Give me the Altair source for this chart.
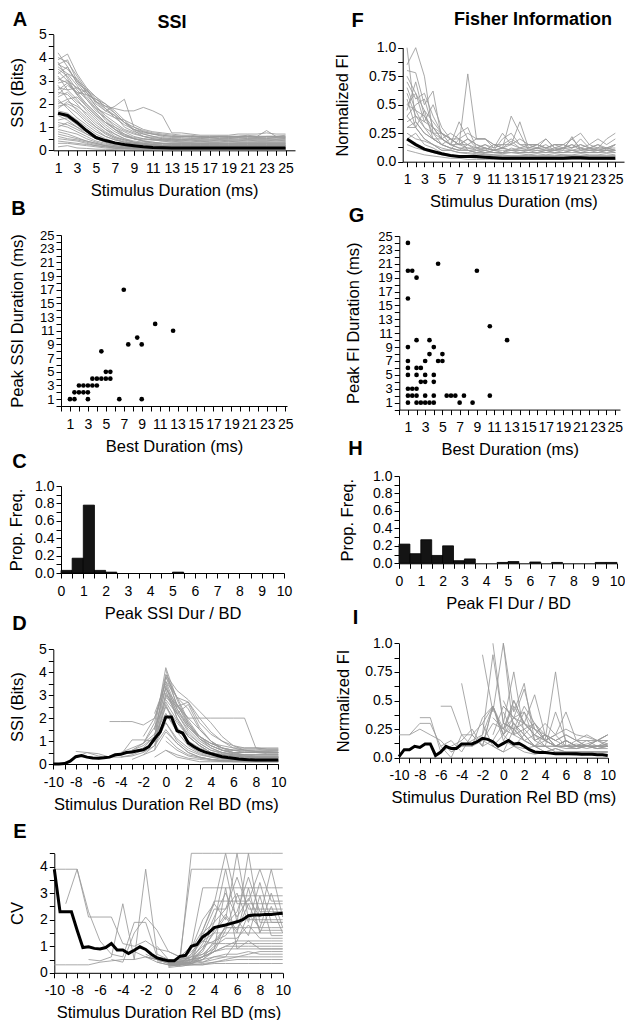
import altair as alt
import pandas as pd

FONT = "Liberation Sans"
GRAY = "#999999"
W, H = 617, 1012      # whole drawing area (page minus its 8px margin)

# ---------------- data ----------------
DUR = list(range(1, 26))
REL = [-10 + 0.5 * k for k in range(41)]

A_MEAN = [1.6, 1.5, 1.2, 0.85, 0.55, 0.42, 0.32, 0.25, 0.2, 0.15, 0.12, 0.11, 0.1, 0.1, 0.1, 0.1, 0.1, 0.1, 0.1, 0.1, 0.1, 0.1, 0.1, 0.1, 0.1]
A_GRAY = [
    [4.2, 3.6, 2.9, 2.6, 2.2, 1.9, 1.8, 1.7, 1.7, 1.85, 1.7, 1.5, 0.75, 0.75, 0.7, 0.65, 0.65, 0.65, 0.65, 0.7, 0.7, 0.7, 0.75, 0.7, 0.7],
    [3.9, 4.15, 3.3, 2.7, 2.0, 1.7, 1.9, 2.2, 1.0, 0.8, 0.7, 0.6, 0.55, 0.55, 0.6, 0.55, 0.6, 0.6, 0.6, 0.6, 0.65, 0.6, 0.85, 0.6, 0.65],
    [3.7, 3.5, 3.0, 2.7, 2.3, 1.8, 1.4, 1.1, 0.9, 0.8, 0.7, 0.65, 0.6, 0.6, 0.55, 0.6, 0.55, 0.6, 0.55, 0.6, 0.6, 0.55, 0.6, 0.6, 0.55],
    [3.5, 3.2, 2.6, 2.2, 1.7, 1.4, 1.1, 0.85, 0.7, 0.6, 0.55, 0.5, 0.5, 0.5, 0.5, 0.5, 0.5, 0.5, 0.5, 0.5, 0.5, 0.5, 0.5, 0.5, 0.5],
    [3.3, 3.6, 2.9, 2.4, 1.9, 1.5, 1.2, 0.9, 0.75, 0.6, 0.5, 0.45, 0.45, 0.4, 0.45, 0.4, 0.4, 0.45, 0.4, 0.4, 0.45, 0.4, 0.4, 0.45, 0.4],
    [3.1, 2.9, 2.5, 2.0, 1.6, 1.2, 0.9, 0.7, 0.55, 0.5, 0.45, 0.4, 0.4, 0.4, 0.4, 0.4, 0.4, 0.4, 0.4, 0.4, 0.4, 0.4, 0.4, 0.4, 0.4],
    [2.9, 3.0, 2.7, 2.3, 1.8, 1.3, 0.9, 0.6, 0.5, 0.4, 0.35, 0.3, 0.3, 0.3, 0.3, 0.3, 0.3, 0.3, 0.3, 0.3, 0.3, 0.3, 0.3, 0.3, 0.3],
    [2.7, 2.6, 2.2, 1.7, 1.3, 0.9, 0.7, 0.5, 0.4, 0.35, 0.3, 0.3, 0.25, 0.25, 0.25, 0.25, 0.25, 0.25, 0.25, 0.25, 0.25, 0.25, 0.25, 0.25, 0.25],
    [2.5, 2.4, 2.0, 1.5, 1.1, 0.8, 0.55, 0.4, 0.3, 0.25, 0.2, 0.2, 0.2, 0.2, 0.2, 0.2, 0.2, 0.2, 0.2, 0.2, 0.2, 0.2, 0.2, 0.2, 0.2],
    [2.3, 2.5, 2.1, 1.8, 1.4, 1.0, 0.7, 0.5, 0.35, 0.3, 0.25, 0.2, 0.2, 0.2, 0.2, 0.2, 0.2, 0.2, 0.2, 0.2, 0.2, 0.2, 0.2, 0.2, 0.2],
    [2.1, 1.9, 1.6, 1.2, 0.9, 0.6, 0.45, 0.35, 0.3, 0.25, 0.2, 0.15, 0.15, 0.15, 0.15, 0.15, 0.15, 0.15, 0.15, 0.15, 0.15, 0.15, 0.15, 0.15, 0.15],
    [1.9, 2.0, 1.8, 1.4, 1.0, 0.7, 0.5, 0.35, 0.25, 0.2, 0.2, 0.15, 0.15, 0.15, 0.15, 0.15, 0.15, 0.15, 0.15, 0.15, 0.15, 0.15, 0.15, 0.15, 0.15],
    [1.7, 1.6, 1.3, 1.0, 0.7, 0.5, 0.35, 0.25, 0.2, 0.15, 0.12, 0.1, 0.1, 0.1, 0.1, 0.1, 0.1, 0.1, 0.1, 0.1, 0.1, 0.1, 0.1, 0.1, 0.1],
    [1.5, 1.3, 1.0, 0.7, 0.5, 0.35, 0.25, 0.2, 0.15, 0.1, 0.1, 0.1, 0.1, 0.1, 0.1, 0.1, 0.1, 0.1, 0.1, 0.1, 0.1, 0.1, 0.1, 0.1, 0.1],
    [1.3, 1.4, 1.2, 0.9, 0.6, 0.4, 0.3, 0.2, 0.15, 0.12, 0.1, 0.08, 0.08, 0.08, 0.08, 0.08, 0.08, 0.08, 0.08, 0.08, 0.08, 0.08, 0.08, 0.08, 0.08],
    [1.1, 1.0, 0.8, 0.6, 0.4, 0.3, 0.2, 0.15, 0.1, 0.08, 0.07, 0.06, 0.06, 0.06, 0.06, 0.06, 0.06, 0.06, 0.06, 0.06, 0.06, 0.06, 0.06, 0.06, 0.06],
    [0.9, 0.8, 0.7, 0.5, 0.35, 0.25, 0.2, 0.15, 0.1, 0.08, 0.06, 0.05, 0.05, 0.05, 0.05, 0.05, 0.05, 0.05, 0.05, 0.05, 0.05, 0.05, 0.05, 0.05, 0.05],
    [0.7, 0.6, 0.5, 0.4, 0.3, 0.2, 0.15, 0.1, 0.08, 0.06, 0.05, 0.04, 0.04, 0.04, 0.04, 0.04, 0.04, 0.04, 0.04, 0.04, 0.04, 0.04, 0.04, 0.04, 0.04],
    [0.5, 0.45, 0.4, 0.3, 0.2, 0.15, 0.1, 0.08, 0.06, 0.05, 0.04, 0.03, 0.03, 0.03, 0.03, 0.03, 0.03, 0.03, 0.03, 0.03, 0.03, 0.03, 0.03, 0.03, 0.03],
    [0.3, 0.3, 0.25, 0.2, 0.15, 0.1, 0.08, 0.06, 0.05, 0.04, 0.03, 0.02, 0.02, 0.02, 0.02, 0.02, 0.02, 0.02, 0.02, 0.02, 0.02, 0.02, 0.02, 0.02, 0.02],
    [0.15, 0.2, 0.1, 0.08, 0.05, 0.04, 0.03, 0.02, 0.02, 0.02, 0.02, 0.02, 0.02, 0.02, 0.02, 0.02, 0.02, 0.02, 0.02, 0.02, 0.02, 0.02, 0.02, 0.02, 0.02],
    [3.8, 3.1, 2.4, 2.6, 2.1, 1.7, 1.5, 1.0, 0.8, 0.7, 0.6, 0.55, 0.5, 0.45, 0.5, 0.5, 0.55, 0.5, 0.5, 0.55, 0.5, 0.5, 0.5, 0.55, 0.5],
    [3.2, 2.6, 2.7, 2.5, 2.1, 1.9, 1.6, 1.2, 0.85, 0.6, 0.5, 0.45, 0.4, 0.35, 0.35, 0.4, 0.35, 0.35, 0.4, 0.35, 0.35, 0.35, 0.35, 0.35, 0.35],
    [2.4, 2.8, 2.5, 2.4, 2.2, 2.0, 1.7, 1.3, 0.9, 0.7, 0.6, 0.5, 0.45, 0.45, 0.45, 0.45, 0.45, 0.45, 0.45, 0.45, 0.45, 0.45, 0.45, 0.45, 0.45],
    [3.6, 3.3, 2.8, 2.2, 1.8, 1.6, 1.4, 1.3, 1.1, 0.9, 0.8, 0.75, 0.7, 0.65, 0.65, 0.6, 0.6, 0.6, 0.6, 0.6, 0.6, 0.6, 0.6, 0.6, 0.6],
    [2.0, 2.2, 2.3, 1.9, 1.5, 1.1, 0.8, 0.6, 0.5, 0.45, 0.45, 0.45, 0.45, 0.45, 0.45, 0.45, 0.45, 0.45, 0.45, 0.45, 0.45, 0.45, 0.45, 0.45, 0.45],
    [4.0, 3.8, 3.2, 2.6, 2.3, 2.0, 1.6, 1.2, 1.0, 0.85, 0.75, 0.7, 0.65, 0.6, 0.6, 0.6, 0.55, 0.6, 0.6, 0.6, 0.6, 0.6, 0.6, 0.6, 0.6],
    [3.4, 3.0, 2.4, 1.9, 1.5, 1.2, 1.0, 0.8, 0.6, 0.5, 0.45, 0.4, 0.35, 0.35, 0.35, 0.35, 0.35, 0.35, 0.35, 0.35, 0.35, 0.35, 0.35, 0.35, 0.35],
    [3.0, 3.3, 3.1, 2.5, 1.9, 1.4, 1.0, 0.7, 0.5, 0.4, 0.3, 0.3, 0.3, 0.3, 0.3, 0.3, 0.3, 0.3, 0.3, 0.3, 0.3, 0.3, 0.3, 0.3, 0.3],
    [2.8, 2.2, 1.7, 1.3, 1.0, 0.75, 0.55, 0.45, 0.35, 0.3, 0.25, 0.25, 0.25, 0.25, 0.25, 0.25, 0.25, 0.25, 0.25, 0.25, 0.25, 0.25, 0.25, 0.25, 0.25],
    [2.6, 2.9, 2.4, 2.0, 1.6, 1.2, 0.9, 0.65, 0.5, 0.4, 0.35, 0.3, 0.3, 0.3, 0.3, 0.3, 0.3, 0.3, 0.3, 0.3, 0.3, 0.3, 0.3, 0.3, 0.3],
    [2.2, 1.8, 1.4, 1.1, 0.8, 0.6, 0.45, 0.35, 0.3, 0.25, 0.2, 0.2, 0.2, 0.2, 0.2, 0.2, 0.2, 0.2, 0.2, 0.2, 0.2, 0.2, 0.2, 0.2, 0.2],
    [1.8, 2.1, 1.9, 1.6, 1.2, 0.9, 0.6, 0.45, 0.35, 0.3, 0.25, 0.2, 0.2, 0.2, 0.2, 0.2, 0.2, 0.2, 0.2, 0.2, 0.2, 0.2, 0.2, 0.2, 0.2],
    [1.6, 1.4, 1.1, 0.8, 0.55, 0.4, 0.3, 0.2, 0.15, 0.12, 0.1, 0.1, 0.1, 0.1, 0.1, 0.1, 0.1, 0.1, 0.1, 0.1, 0.1, 0.1, 0.1, 0.1, 0.1],
    [1.2, 1.1, 0.9, 0.7, 0.5, 0.35, 0.25, 0.2, 0.15, 0.1, 0.1, 0.1, 0.1, 0.1, 0.1, 0.1, 0.1, 0.1, 0.1, 0.1, 0.1, 0.1, 0.1, 0.1, 0.1],
    [1.0, 1.2, 1.0, 0.8, 0.6, 0.4, 0.3, 0.2, 0.15, 0.1, 0.1, 0.1, 0.1, 0.1, 0.1, 0.1, 0.1, 0.1, 0.1, 0.1, 0.1, 0.1, 0.1, 0.1, 0.1],
    [0.8, 0.7, 0.55, 0.4, 0.3, 0.2, 0.15, 0.1, 0.1, 0.1, 0.1, 0.1, 0.1, 0.1, 0.1, 0.1, 0.1, 0.1, 0.1, 0.1, 0.1, 0.1, 0.1, 0.1, 0.1],
    [0.6, 0.5, 0.45, 0.35, 0.25, 0.2, 0.15, 0.1, 0.1, 0.1, 0.1, 0.1, 0.1, 0.1, 0.1, 0.1, 0.1, 0.1, 0.1, 0.1, 0.1, 0.1, 0.1, 0.1, 0.1],
    [0.4, 0.35, 0.3, 0.25, 0.2, 0.15, 0.1, 0.1, 0.1, 0.1, 0.1, 0.1, 0.1, 0.1, 0.1, 0.1, 0.1, 0.1, 0.1, 0.1, 0.1, 0.1, 0.1, 0.1, 0.1],
    [3.7, 3.9, 3.0, 2.5, 2.1, 1.8, 1.5, 1.2, 0.9, 0.75, 0.7, 0.65, 0.6, 0.6, 0.6, 0.55, 0.55, 0.55, 0.55, 0.55, 0.55, 0.55, 0.55, 0.55, 0.55],
]

F_MEAN = [0.2, 0.15, 0.11, 0.09, 0.07, 0.055, 0.045, 0.045, 0.045, 0.04, 0.035, 0.03, 0.03, 0.03, 0.03, 0.03, 0.03, 0.03, 0.03, 0.035, 0.035, 0.03, 0.03, 0.03, 0.03]
F_GRAY = [
    [1.0, 0.35, 0.25, 0.2, 0.15, 0.12, 0.1, 0.1, 0.08, 0.1, 0.08, 0.07, 0.08, 0.07, 0.06, 0.07, 0.06, 0.07, 0.06, 0.06, 0.07, 0.06, 0.06, 0.07, 0.06],
    [0.85, 1.0, 0.75, 0.25, 0.2, 0.15, 0.12, 0.1, 0.1, 0.1, 0.08, 0.08, 0.1, 0.08, 0.08, 0.08, 0.1, 0.08, 0.08, 0.1, 0.08, 0.08, 0.08, 0.1, 0.08],
    [0.8, 0.78, 0.5, 0.62, 0.2, 0.15, 0.35, 0.2, 0.15, 0.12, 0.1, 0.12, 0.4, 0.25, 0.1, 0.12, 0.1, 0.12, 0.1, 0.1, 0.12, 0.1, 0.1, 0.12, 0.1],
    [0.5, 0.6, 0.45, 0.35, 0.25, 0.2, 0.15, 0.77, 0.2, 0.2, 0.15, 0.12, 0.15, 0.35, 0.12, 0.12, 0.2, 0.12, 0.12, 0.2, 0.12, 0.15, 0.12, 0.2, 0.25],
    [0.45, 0.7, 0.4, 0.3, 0.2, 0.25, 0.2, 0.15, 0.2, 0.2, 0.12, 0.25, 0.15, 0.2, 0.15, 0.15, 0.12, 0.15, 0.15, 0.2, 0.25, 0.15, 0.2, 0.15, 0.2],
    [0.4, 0.5, 0.55, 0.3, 0.25, 0.15, 0.25, 0.3, 0.12, 0.15, 0.1, 0.2, 0.25, 0.15, 0.12, 0.15, 0.2, 0.12, 0.15, 0.12, 0.2, 0.12, 0.15, 0.1, 0.15],
    [0.35, 0.4, 0.3, 0.25, 0.15, 0.2, 0.15, 0.2, 0.12, 0.1, 0.15, 0.12, 0.18, 0.12, 0.1, 0.12, 0.15, 0.1, 0.12, 0.15, 0.1, 0.12, 0.1, 0.12, 0.1],
    [0.3, 0.3, 0.45, 0.2, 0.15, 0.12, 0.1, 0.15, 0.1, 0.08, 0.1, 0.08, 0.12, 0.1, 0.08, 0.1, 0.08, 0.1, 0.08, 0.1, 0.08, 0.1, 0.08, 0.1, 0.08],
    [0.25, 0.2, 0.18, 0.15, 0.1, 0.1, 0.08, 0.08, 0.07, 0.06, 0.06, 0.05, 0.05, 0.05, 0.05, 0.05, 0.05, 0.05, 0.05, 0.05, 0.05, 0.05, 0.05, 0.05, 0.05],
    [0.2, 0.25, 0.15, 0.12, 0.08, 0.06, 0.05, 0.05, 0.04, 0.04, 0.03, 0.03, 0.03, 0.03, 0.03, 0.03, 0.03, 0.03, 0.03, 0.03, 0.03, 0.03, 0.03, 0.03, 0.03],
    [0.15, 0.12, 0.1, 0.08, 0.06, 0.05, 0.04, 0.04, 0.03, 0.03, 0.03, 0.02, 0.02, 0.02, 0.02, 0.02, 0.02, 0.02, 0.02, 0.02, 0.02, 0.02, 0.02, 0.02, 0.02],
    [0.1, 0.08, 0.06, 0.05, 0.04, 0.03, 0.03, 0.02, 0.02, 0.02, 0.02, 0.02, 0.02, 0.02, 0.02, 0.02, 0.02, 0.02, 0.02, 0.02, 0.02, 0.02, 0.02, 0.02, 0.02],
    [0.6, 0.4, 0.35, 0.5, 0.3, 0.2, 0.2, 0.25, 0.2, 0.2, 0.15, 0.15, 0.2, 0.15, 0.15, 0.15, 0.12, 0.15, 0.12, 0.12, 0.15, 0.12, 0.12, 0.12, 0.15],
    [0.7, 0.55, 0.6, 0.4, 0.25, 0.2, 0.15, 0.15, 0.12, 0.12, 0.1, 0.1, 0.1, 0.1, 0.1, 0.1, 0.1, 0.1, 0.1, 0.22, 0.1, 0.1, 0.1, 0.1, 0.1],
    [0.3, 0.35, 0.25, 0.2, 0.2, 0.15, 0.12, 0.12, 0.12, 0.15, 0.12, 0.15, 0.15, 0.12, 0.12, 0.15, 0.12, 0.15, 0.15, 0.12, 0.15, 0.12, 0.15, 0.12, 0.15],
    [0.55, 0.3, 0.2, 0.15, 0.12, 0.1, 0.2, 0.1, 0.08, 0.07, 0.06, 0.06, 0.05, 0.05, 0.06, 0.05, 0.05, 0.05, 0.06, 0.05, 0.05, 0.05, 0.05, 0.05, 0.05],
    [0.75, 0.6, 0.35, 0.3, 0.2, 0.15, 0.15, 0.12, 0.1, 0.12, 0.1, 0.12, 0.1, 0.1, 0.1, 0.12, 0.1, 0.1, 0.12, 0.1, 0.1, 0.12, 0.1, 0.1, 0.1],
    [0.65, 0.45, 0.4, 0.25, 0.25, 0.2, 0.15, 0.2, 0.15, 0.12, 0.1, 0.12, 0.1, 0.12, 0.15, 0.12, 0.12, 0.1, 0.12, 0.15, 0.12, 0.1, 0.12, 0.12, 0.12],
    [0.5, 0.45, 0.3, 0.2, 0.15, 0.12, 0.1, 0.1, 0.08, 0.08, 0.08, 0.08, 0.08, 0.08, 0.08, 0.08, 0.08, 0.08, 0.08, 0.08, 0.08, 0.08, 0.08, 0.08, 0.08],
    [0.4, 0.3, 0.2, 0.15, 0.1, 0.1, 0.08, 0.07, 0.06, 0.06, 0.05, 0.05, 0.05, 0.05, 0.05, 0.05, 0.05, 0.05, 0.05, 0.05, 0.05, 0.05, 0.05, 0.05, 0.05],
]

B_BD = [1, 1.5, 3, 6.5, 9, 1.5, 2, 2.5, 3, 2, 2.5, 3, 3.5, 4, 3.5, 4, 4.5, 5, 5.5, 5, 5.5, 4.5, 7.5, 9, 8.5, 7, 10.5, 12.5]
B_PEAK = [1, 1, 1, 1, 1, 2, 2, 2, 2, 3, 3, 3, 3, 3, 4, 4, 4, 4, 4, 5, 5, 8, 9, 9, 10, 17, 12, 11]

G_BD = [1, 2, 2.5, 3, 3.5, 4, 7, 8.5, 1, 1.5, 2, 3, 4, 5.5, 6, 6.5, 7.5, 10.5, 1, 1.5, 2, 2.5, 3, 4, 1, 2, 3, 4,
        1, 2, 2.5, 1, 3, 4.5, 5, 3.5, 5, 1, 4, 2, 3.5, 12.5, 10.5, 1, 2, 1, 1.5, 9, 4.5, 1]
G_PEAK = [1, 1, 1, 1, 1, 1, 1, 1, 2, 2, 2, 2, 2, 2, 2, 2, 2, 2, 3, 3, 3, 4, 4, 4, 5, 5, 5, 5,
          6, 6, 6, 7, 7, 7, 7, 8, 8, 9, 9, 10, 10, 10, 12, 16, 19, 20, 20, 20, 21, 24]

C_START = [0, 0.5, 1.0, 1.5, 2.0, 5.0]
C_FREQ = [0.03, 0.17, 0.78, 0.03, 0.01, 0.01]
H_START = [0, 0.5, 1.0, 1.5, 2.0, 2.5, 3.0, 4.5, 5.0, 6.0, 7.0, 9.0, 9.5]
H_FREQ = [0.22, 0.11, 0.27, 0.09, 0.2, 0.03, 0.05, 0.01, 0.02, 0.015, 0.01, 0.01, 0.01]

D_MEAN = [0, 0, 0.02, 0.12, 0.32, 0.37, 0.3, 0.26, 0.25, 0.27, 0.3, 0.4, 0.42, 0.5, 0.52, 0.58, 0.62, 0.76, 1.1, 1.4,
          2.05, 2.05, 1.45, 1.35, 0.92, 0.75, 0.62, 0.52, 0.45, 0.38, 0.32, 0.28, 0.25, 0.22, 0.2, 0.18, 0.17, 0.17, 0.17, 0.17, 0.17]
D_GRAY = [
    (-1, [1.5, 4.2, 2.8, 1.8, 1.2, 0.8, 0.6, 0.6, 0.65, 0.65, 0.6, 0.6]),
    (0, [4.1, 2.5, 2.0, 1.5, 1.0, 0.7, 0.6, 0.55, 0.55, 0.55, 0.5]),
    (-2, [0.9, 1.8, 3.9, 2.9, 2.7, 2.0, 1.4, 1.0, 0.7, 0.6, 0.6, 0.6, 0.6]),
    (-5, [1.85, 1.85, 1.85, 1.7, 2.0, 3.6, 2.4, 1.6, 1.2, 0.9, 0.8, 0.7, 0.7, 0.7, 0.7, 0.7]),
    (-1, [1.5, 3.3, 2.6, 2.0, 2.0, 2.0, 2.0, 2.0, 2.0, 0.7, 0.65, 0.65]),
    (-3, [0.5, 0.7, 1.2, 3.0, 2.2, 1.5, 1.0, 0.7, 0.5, 0.45, 0.4, 0.4, 0.4, 0.4]),
    (0, [3.2, 2.0, 1.2, 0.8, 0.5, 0.4, 0.35, 0.3, 0.3, 0.3, 0.3]),
    (-2, [0.5, 1.0, 2.6, 1.5, 1.0, 0.6, 0.4, 0.3, 0.25, 0.25, 0.25, 0.25, 0.25]),
    (0, [2.2, 1.4, 0.8, 0.5, 0.35, 0.25, 0.2, 0.2, 0.2, 0.2, 0.2]),
    (-1, [0.8, 1.8, 1.0, 0.6, 0.4, 0.3, 0.25, 0.2, 0.2, 0.2, 0.2, 0.2]),
    (0, [1.2, 0.7, 0.4, 0.3, 0.2, 0.15, 0.15, 0.1, 0.1, 0.1, 0.1]),
    (-4, [0.3, 0.4, 0.6, 1.0, 3.4, 2.0, 1.3, 0.9, 0.6, 0.5, 0.4, 0.35, 0.3, 0.3, 0.3]),
    (-8, [0.3, 0.5, 0.35, 0.3, 0.4, 1.05, 1.05, 1.0, 2.5, 1.8, 1.2, 0.8, 0.5, 0.4, 0.3, 0.3, 0.3, 0.3, 0.3]),
    (-6, [0.2, 0.3, 0.4, 0.6, 0.8, 1.2, 3.8, 2.6, 1.7, 1.2, 0.9, 0.7, 0.6, 0.6, 0.55, 0.55, 0.55]),
    (0, [0.6, 0.4, 0.25, 0.2, 0.15, 0.1, 0.1, 0.1, 0.1, 0.1, 0.1]),
    (-3, [0.2, 0.4, 0.6, 2.9, 2.5, 2.7, 1.8, 1.3, 1.0, 0.8, 0.7, 0.7, 0.65, 0.65]),
    (-1, [1.2, 3.8, 2.9, 2.4, 1.5, 1.0, 0.7, 0.5, 0.4, 0.4, 0.4, 0.4]),
    (0, [2.8, 2.2, 2.6, 1.6, 1.0, 0.6, 0.45, 0.4, 0.35, 0.35, 0.35]),
    (-2, [0.4, 0.8, 1.5, 0.9, 0.5, 0.3, 0.2, 0.15, 0.15, 0.15, 0.15, 0.15, 0.15]),
    (-1, [0.3, 0.6, 0.3, 0.2, 0.1, 0.1, 0.1, 0.1, 0.1, 0.1, 0.1, 0.1]),
    (-8, [0.55, 0.5, 0.45, 0.3, 0.3, 0.35, 0.5, 0.8, 3.1, 2.3, 1.6, 1.1, 0.8, 0.6, 0.5, 0.5, 0.5, 0.5, 0.5]),
    (0, [3.6, 2.9, 1.9, 1.2, 0.9, 0.7, 0.6, 0.5, 0.5, 0.45, 0.45]),
    (0, [3.0, 2.6, 1.8, 1.1, 0.7, 0.5, 0.4, 0.35, 0.3, 0.3, 0.3]),
    (-1, [2.2, 3.5, 2.2, 1.4, 0.9, 0.6, 0.45, 0.4, 0.4, 0.4, 0.4, 0.4]),
    (-2, [1.2, 2.0, 3.3, 2.4, 1.7, 1.1, 0.8, 0.6, 0.5, 0.5, 0.5, 0.5, 0.5]),
    (0, [2.5, 1.6, 1.0, 0.6, 0.4, 0.3, 0.25, 0.25, 0.25, 0.25, 0.25]),
    (-3, [0.6, 0.9, 1.6, 2.7, 1.9, 1.2, 0.8, 0.5, 0.4, 0.35, 0.3, 0.3, 0.3, 0.3]),
    (0, [1.8, 1.1, 0.7, 0.45, 0.3, 0.2, 0.2, 0.15, 0.15, 0.15, 0.15]),
    (-1, [0.6, 1.4, 0.9, 0.5, 0.3, 0.2, 0.15, 0.15, 0.15, 0.15, 0.15, 0.15]),
    (0, [3.9, 3.2, 2.8, 2.3, 1.8, 1.2, 0.8, 0.6, 0.55, 0.5, 0.5]),
    (-4, [0.5, 0.7, 0.9, 1.3, 2.2, 1.5, 1.0, 0.7, 0.5, 0.4, 0.35, 0.3, 0.3, 0.3, 0.3]),
    (0, [1.0, 0.6, 0.35, 0.25, 0.2, 0.15, 0.1, 0.1, 0.1, 0.1, 0.1]),
]

E_MEAN = [3.9, 2.3, 2.3, 2.3, 1.6, 0.95, 0.98, 0.92, 0.9, 0.95, 1.1, 0.86, 0.86, 0.73, 0.85, 0.98, 0.88, 0.7, 0.56, 0.5,
          0.45, 0.45, 0.62, 0.66, 1.0, 1.07, 1.35, 1.5, 1.7, 1.75, 1.8, 1.86, 1.92, 2.0, 2.15, 2.18, 2.18, 2.2, 2.2, 2.22, 2.24]
E_GRAY = [
    (-1, [1.0, 0.5, 0.4, 4.5, 4.5, 4.5, 4.5, 4.5, 4.5, 4.5, 4.5, 4.5]),
    (0, [0.4, 0.6, 3.9, 3.9, 3.9, 3.9, 3.9, 3.9, 3.9, 3.9, 3.9]),
    (-3, [0.8, 0.6, 0.5, 0.4, 0.6, 1.0, 3.2, 3.2, 3.2, 3.2, 3.2, 3.2, 3.2, 3.2]),
    (-2, [0.6, 0.5, 0.35, 0.4, 0.9, 1.6, 2.6, 4.5, 2.6, 2.6, 2.6, 2.6, 2.6]),
    (0, [0.3, 0.35, 0.5, 1.1, 2.1, 3.0, 2.1, 2.8, 2.1, 3.9, 2.1]),
    (0, [0.35, 0.4, 0.7, 1.5, 1.9, 2.4, 3.0, 1.9, 3.4, 1.9, 1.9]),
    (-1, [0.5, 0.35, 0.3, 0.5, 0.9, 1.5, 1.5, 1.5, 3.2, 1.5, 2.5, 1.5]),
    (0, [0.25, 0.3, 0.35, 0.6, 1.0, 1.3, 1.3, 1.8, 1.3, 1.3, 1.3]),
    (-2, [0.6, 0.4, 0.3, 0.3, 0.4, 0.6, 0.8, 1.0, 1.0, 1.0, 1.0, 1.0, 1.0]),
    (0, [0.3, 0.3, 0.35, 0.4, 0.6, 0.7, 0.7, 0.8, 0.7, 0.7, 0.7]),
    (0, [0.2, 0.25, 0.3, 0.35, 0.4, 0.45, 0.5, 0.5, 0.5, 0.5, 0.5]),
    (-1, [0.4, 0.3, 0.25, 0.3, 0.3, 0.35, 0.35, 0.35, 0.35, 0.35, 0.35, 0.35]),
    (-10, [3.9, 3.9, 3.9, 2.1, 2.1, 2.1, 1.1, 1.0, 1.2, 0.9, 0.8, 0.6, 0.5, 0.4, 0.5, 0.6, 1.2, 2.2, 2.2, 2.2, 2.2]),
    (-10, [0.3, 0.3, 0.3, 0.3, 0.4, 0.45, 0.5, 0.5, 0.6, 0.5, 0.4, 0.35, 0.3, 0.3, 0.4, 0.5, 0.6, 0.7, 0.8, 0.8, 0.8]),
    (-9, [2.6, 3.9, 2.3, 1.2, 0.7, 0.6, 1.9, 1.9, 0.6, 0.5, 0.4, 0.4, 0.5, 0.8, 1.6, 2.9, 2.9, 2.9, 2.9, 2.9]),
    (-7, [0.5, 0.45, 0.6, 2.6, 0.5, 3.9, 0.7, 0.5, 0.4, 0.35, 0.5, 0.9, 1.8, 2.3, 3.6, 2.3, 2.3, 2.3]),
    (-5, [0.5, 0.4, 1.5, 2.1, 1.6, 0.8, 0.6, 0.5, 0.6, 1.2, 1.7, 1.7, 1.7, 1.7, 1.7, 1.7]),
    (0, [0.3, 0.4, 0.5, 0.8, 1.6, 2.2, 1.6, 2.6, 1.6, 1.6, 1.6]),
    (0, [0.45, 0.5, 0.6, 1.0, 1.2, 1.4, 2.0, 1.4, 2.9, 1.4, 1.4]),
    (-1, [0.45, 0.4, 0.4, 0.6, 0.7, 0.9, 3.2, 0.9, 1.2, 0.9, 0.9, 0.9]),
    (0, [0.35, 0.45, 0.9, 2.0, 2.6, 2.0, 4.5, 2.0, 2.0, 2.0, 2.0]),
    (-1, [0.6, 0.4, 0.3, 0.7, 1.2, 1.1, 1.1, 1.1, 1.1, 1.1, 1.1, 1.1]),
    (0, [0.3, 0.4, 0.6, 1.4, 2.4, 2.4, 3.6, 2.4, 2.4, 2.4, 2.4]),
    (0, [0.4, 0.45, 0.5, 0.7, 1.1, 1.7, 1.7, 2.2, 1.7, 3.0, 1.7]),
    (-1, [0.5, 0.45, 0.4, 0.5, 0.6, 0.8, 1.0, 1.2, 1.2, 1.2, 1.2, 1.2]),
    (0, [0.25, 0.3, 0.4, 0.9, 1.9, 3.9, 1.9, 4.5, 1.9, 1.9, 1.9]),
    (0, [0.35, 0.3, 0.45, 0.6, 0.8, 0.9, 0.9, 0.9, 0.9, 0.9, 0.9]),
    (-2, [0.7, 0.5, 0.4, 0.3, 0.35, 0.5, 0.6, 0.6, 0.6, 0.6, 0.6, 0.6, 0.6]),
    (0, [0.3, 0.35, 0.4, 1.6, 2.7, 2.7, 2.7, 2.7, 3.9, 2.7, 2.7]),
    (0, [0.4, 0.5, 0.8, 1.2, 1.5, 2.1, 1.5, 1.5, 1.5, 1.5, 1.5]),
]

I_MEAN = [0.01, 0.07, 0.07, 0.1, 0.09, 0.12, 0.12, 0.02, 0.05, 0.1, 0.08, 0.08, 0.12, 0.12, 0.12, 0.14, 0.17, 0.16, 0.14, 0.1,
          0.125, 0.15, 0.12, 0.125, 0.1, 0.07, 0.05, 0.045, 0.045, 0.04, 0.035, 0.035, 0.035, 0.035, 0.035, 0.03, 0.03, 0.03, 0.025, 0.025, 0.02]
I_GRAY = [
    (-2, [0.9, 0.4, 1.0, 0.2, 0.15, 0.1, 0.15, 0.1, 0.1, 0.08, 0.1, 0.08, 0.1]),
    (-1, [1.0, 0.3, 0.75, 0.2, 0.1, 0.05, 0.08, 0.05, 0.05, 0.05, 0.05, 0.05]),
    (0, [1.0, 0.4, 0.65, 0.15, 0.2, 0.1, 0.1, 0.1, 0.08, 0.1, 0.1]),
    (-4, [0.65, 0.2, 0.1, 0.45, 0.25, 0.5, 0.3, 0.2, 0.15, 0.75, 0.1, 0.1, 0.1, 0.1, 0.1]),
    (-6, [0.45, 0.45, 0.2, 0.1, 0.35, 0.45, 0.2, 0.3, 0.15, 0.1, 0.1, 0.4, 0.15, 0.1, 0.1, 0.1, 0.12]),
    (-9, [0.2, 0.3, 0.3, 0.1, 0.0, 0.2, 0.2, 0.3, 0.1, 0.05, 0.25, 0.15, 0.1, 0.1, 0.05, 0.05, 0.05, 0.05, 0.05, 0.05]),
    (-8, [0.35, 0.35, 0.05, 0.1, 0.15, 0.25, 0.1, 0.45, 0.2, 0.5, 0.3, 0.2, 0.15, 0.1, 0.15, 0.1, 0.15, 0.1, 0.15]),
    (-2, [0.3, 0.45, 0.2, 0.35, 0.25, 0.3, 0.15, 0.2, 0.1, 0.15, 0.1, 0.15, 0.12]),
    (-1, [0.2, 0.45, 0.35, 0.6, 0.25, 0.15, 0.1, 0.15, 0.1, 0.12, 0.15, 0.2]),
    (0, [0.5, 0.3, 0.2, 0.3, 0.15, 0.2, 0.4, 0.15, 0.1, 0.15, 0.1]),
    (0, [0.3, 0.25, 0.15, 0.2, 0.1, 0.1, 0.15, 0.1, 0.1, 0.1, 0.1]),
    (-3, [0.1, 0.2, 0.45, 0.15, 0.3, 0.2, 0.1, 0.2, 0.1, 0.1, 0.08, 0.1, 0.08, 0.1]),
    (0, [0.15, 0.1, 0.08, 0.1, 0.05, 0.08, 0.05, 0.05, 0.05, 0.05, 0.05]),
    (-1, [0.1, 0.2, 0.1, 0.05, 0.03, 0.05, 0.03, 0.03, 0.02, 0.03, 0.02, 0.02]),
    (-10, [0.2, 0.2, 0.25, 0.2, 0.15, 0.05, 0.1, 0.1, 0.15, 0.1, 0.05, 0.1, 0.2, 0.1, 0.1, 0.05, 0.05, 0.05, 0.05, 0.05, 0.05]),
    (-5, [0.05, 0.1, 0.15, 0.2, 0.9, 0.3, 0.25, 0.3, 0.55, 0.2, 0.15, 0.2, 0.15, 0.15, 0.15, 0.15]),
    (0, [0.25, 0.35, 0.3, 0.2, 0.3, 0.2, 0.25, 0.2, 0.18, 0.15, 0.2]),
    (-1, [0.35, 0.25, 0.45, 0.3, 0.25, 0.2, 0.15, 0.2, 0.15, 0.2, 0.15, 0.2]),
    (0, [0.4, 0.2, 0.25, 0.15, 0.2, 0.1, 0.15, 0.1, 0.1, 0.1, 0.1]),
    (-2, [0.15, 0.3, 0.25, 0.2, 0.4, 0.15, 0.1, 0.1, 0.08, 0.08, 0.1, 0.08, 0.08]),
    (-6, [0.1, 0.15, 0.05, 0.2, 0.1, 0.15, 0.3, 0.25, 0.45, 0.3, 0.2, 0.15, 0.1, 0.1, 0.1, 0.1, 0.1]),
    (0, [0.45, 0.35, 0.4, 0.25, 0.15, 0.1, 0.1, 0.12, 0.1, 0.1, 0.12]),
]

# tick positions and label rules
TICK_1_25 = list(range(1, 26))
TICK_0_25 = list(range(0, 26))
HALF_0_5 = [0, 0.5, 1, 1.5, 2, 2.5, 3, 3.5, 4, 4.5, 5]
HALF_0_45 = [0, 0.5, 1, 1.5, 2, 2.5, 3, 3.5, 4, 4.5]
EIGHTHS = [0, 0.125, 0.25, 0.375, 0.5, 0.625, 0.75, 0.875, 1.0]
TENTHS = [0, 0.1, 0.2, 0.3, 0.4, 0.5, 0.6, 0.7, 0.8, 0.9, 1.0]
HALF_0_10 = [0, 0.5, 1, 1.5, 2, 2.5, 3, 3.5, 4, 4.5, 5, 5.5, 6, 6.5, 7, 7.5, 8, 8.5, 9, 9.5, 10]
INT_M10_10 = list(range(-10, 11))

ODD = "datum.value % 2 == 1 ? '' + datum.value : ''"
EVEN = "datum.value % 2 == 0 ? '' + datum.value : ''"
WHOLE = "datum.value % 1 == 0 ? '' + datum.value : ''"
FI_LBL = ("datum.value == 0 ? '0.0' : datum.value == 1 ? '1.0' : datum.value == 0.25 ? '0.25' : "
          "datum.value == 0.5 ? '0.5' : datum.value == 0.75 ? '0.75' : ''")
FREQ_LBL = "round(datum.value * 10) % 2 == 0 ? format(datum.value, '.1f') : ''"

# panel boxes in page pixels: (left, right, top, bottom)
BOX = {
    "A": (53.3, 295, 34.3, 150.3), "B": (61, 287, 235, 406), "C": (61, 284, 486, 573),
    "D": (53.3, 278.3, 649.3, 764), "E": (54.3, 282.7, 853.3, 972.8),
    "F": (402.7, 624, 47.7, 161.7), "G": (399.3, 620, 236, 409.6), "H": (399, 617, 476, 563.3),
    "I": (399, 607.7, 643.3, 757.7),
}


def P(v):
    return v - 8  # page pixel -> drawing pixel


# ---------------- helpers ----------------
def grid_df(lines, x0s, step):
    rows = []
    for i, (x0, vals) in enumerate(zip(x0s, lines)):
        for j, v in enumerate(vals):
            rows.append({"id": i, "x": x0 + j * step, "y": v})
    return pd.DataFrame(rows)


def encs(key, xdom, ydom, xv, xe, xt, yv, ye, yt, ytx, ylab=14):
    l, r, t, b = [P(v) for v in BOX[key]]
    xax = alt.Axis(orient="bottom", offset=b - H, values=xv, labelExpr=xe, title=xt,
                   labelOverlap=False, labelFlush=False, titleX=(l + r) / 2, titleY=40,
                   titleBaseline="middle", titleAlign="center")
    yax = alt.Axis(orient="left", offset=-l, values=yv, labelExpr=ye, title=yt, labelFontSize=ylab,
                   labelOverlap=False, labelFlush=False, titleX=ytx, titleY=(t + b) / 2,
                   titleBaseline="middle", titleAlign="center", titleAngle=270)
    x = alt.X("x:Q", scale=alt.Scale(domain=xdom, range=[l, r], nice=False, zero=False), axis=xax)
    y = alt.Y("y:Q", scale=alt.Scale(domain=ydom, range=[b, t], nice=False, zero=False), axis=yax)
    return x, y


def line_panel(gray, mean, e):
    x, y = e
    g = alt.Chart(gray).mark_line(color=GRAY, strokeWidth=0.85).encode(x=x, y=y, detail="id:N")
    m = alt.Chart(mean).mark_line(color="black", strokeWidth=3).encode(x=x, y=y)
    return alt.layer(g, m)


def scatter_panel(df, e):
    x, y = e
    return alt.Chart(df).mark_circle(size=22, color="black", opacity=1).encode(x=x, y=y)


def hist_panel(df, e):
    x, y = e
    return alt.Chart(df).mark_bar(color="#141414", stroke="black", strokeWidth=0.8).encode(
        x=x, x2="x2:Q", y=y, y2=alt.datum(0))


def text(t, px, py, size, weight="bold"):
    return alt.Chart(pd.DataFrame({"t": [t]})).mark_text(
        font=FONT, fontSize=size, fontWeight=weight, align="center", baseline="alphabetic", color="black"
    ).encode(text="t:N", x=alt.value(P(px)), y=alt.value(P(py)))


# ---------------- data frames ----------------
a_gray = grid_df(A_GRAY, [1] * len(A_GRAY), 1)
a_mean = pd.DataFrame({"x": DUR, "y": A_MEAN})
f_gray = grid_df(F_GRAY, [1] * len(F_GRAY), 1)
f_mean = pd.DataFrame({"x": DUR, "y": F_MEAN})
d_gray = grid_df([v for _, v in D_GRAY], [s for s, _ in D_GRAY], 1)
d_mean = pd.DataFrame({"x": REL, "y": D_MEAN})
e_gray = grid_df([v for _, v in E_GRAY], [s for s, _ in E_GRAY], 1)
e_mean = pd.DataFrame({"x": REL, "y": E_MEAN})
i_gray = grid_df([v for _, v in I_GRAY], [s for s, _ in I_GRAY], 1)
i_mean = pd.DataFrame({"x": REL, "y": I_MEAN})
b_df = pd.DataFrame({"x": B_BD, "y": B_PEAK})
g_df = pd.DataFrame({"x": G_BD, "y": G_PEAK})
c_df = pd.DataFrame({"x": C_START, "x2": [s + 0.5 for s in C_START], "y": C_FREQ})
h_df = pd.DataFrame({"x": H_START, "x2": [s + 0.5 for s in H_START], "y": H_FREQ})

# ---------------- panels ----------------
pA = line_panel(a_gray, a_mean, encs("A", [0.5, 26], [0, 5], TICK_1_25, ODD, "Stimulus Duration (ms)",
                                     HALF_0_5, WHOLE, "SSI (Bits)", -36))
pB = scatter_panel(b_df, encs("B", [0, 25.2], [0, 25], TICK_0_25, ODD, "Best Duration (ms)",
                              TICK_0_25, ODD, "Peak SSI Duration (ms)", -44, ylab=13))
pC = hist_panel(c_df, encs("C", [0, 10], [0, 1], HALF_0_10, WHOLE, "Peak SSI Dur / BD",
                           TENTHS, FREQ_LBL, "Prop. Freq.", -45))
pD = line_panel(d_gray, d_mean, encs("D", [-10, 10], [0, 5], INT_M10_10, EVEN, "Stimulus Duration Rel BD (ms)",
                                     HALF_0_5, WHOLE, "SSI (Bits)", -36))
pE = line_panel(e_gray, e_mean, encs("E", [-10, 10], [0, 4.5], INT_M10_10, EVEN, "Stimulus Duration Rel BD (ms)",
                                     HALF_0_45, WHOLE, "CV", -37))
pF = line_panel(f_gray, f_mean, encs("F", [0.5, 26], [0, 1], TICK_1_25, ODD, "Stimulus Duration (ms)",
                                     EIGHTHS, FI_LBL, "Normalized FI", -60))
pG = scatter_panel(g_df, encs("G", [0, 25.6], [0, 25], TICK_0_25, ODD, "Best Duration (ms)",
                              TICK_0_25, ODD, "Peak FI Duration (ms)", -46, ylab=13))
pH = hist_panel(h_df, encs("H", [0, 10], [0, 1], HALF_0_10, WHOLE, "Peak FI Dur / BD",
                           TENTHS, FREQ_LBL, "Prop. Freq.", -52))
pI = line_panel(i_gray, i_mean, encs("I", [-10, 10], [0, 1], INT_M10_10, EVEN, "Stimulus Duration Rel BD (ms)",
                                     EIGHTHS, FI_LBL, "Normalized FI", -56))

LET = 20
TIT = 18
texts = [
    text("A", 20, 25.5, LET), text("SSI", 172, 28, TIT),
    text("B", 18.5, 215, LET), text("C", 19.5, 468, LET), text("D", 19.5, 630, LET), text("E", 20, 838, LET),
    text("F", 357.5, 27, LET), text("Fisher Information", 533, 25, TIT),
    text("G", 356.5, 222, LET), text("H", 355.5, 455, LET), text("I", 355.5, 624, LET),
]

chart = alt.layer(pA, pB, pC, pD, pE, pF, pG, pH, pI, *texts).resolve_scale(
    x="independent", y="independent"
).resolve_axis(
    x="independent", y="independent"
).properties(
    width=W, height=H, autosize=alt.AutoSizeParams(type="none"),
    padding={"left": 0, "top": 0, "right": 0, "bottom": 0}
).configure_axis(
    grid=False, domainColor="black", tickColor="black", labelColor="black", titleColor="black",
    labelFont=FONT, titleFont=FONT, labelFontSize=14, titleFontSize=16.5, titleFontWeight="normal",
    tickSize=5, tickWidth=1, domainWidth=1, labelPadding=2
).configure_axisX(labelPadding=6).configure_view(strokeWidth=0)

chart.save("out.html", embed_options={"renderer": "svg", "actions": False})
